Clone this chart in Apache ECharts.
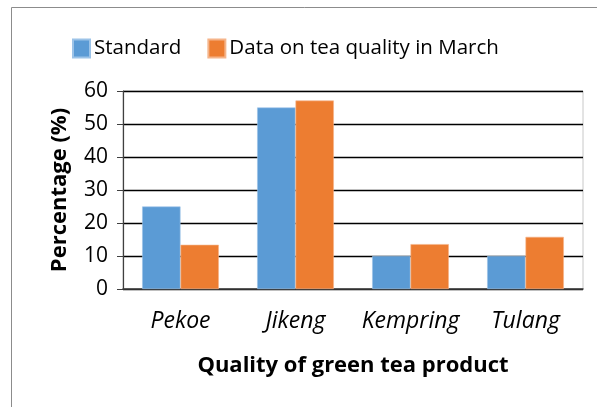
<!DOCTYPE html>
<html><head><meta charset="utf-8">
<script src="https://cdn.jsdelivr.net/npm/echarts@6/dist/echarts.min.js"></script>
<style>html,body{margin:0;padding:0;background:#fff}#c{width:597px;height:407px}</style>
</head><body><div id="c"></div>
<script>
const categories = ['Pekoe', 'Jikeng', 'Kempring', 'Tulang'];
const standard = [25, 55, 10, 10];
const march = [13.4, 57.1, 13.6, 15.8];
const seriesNames = ['Standard', 'Data on tea quality in March'];
const yTicks = { min: 0, max: 60, interval: 10 };

const FONT = 'Open Sans';
const chart = echarts.init(document.getElementById('c'), null, { renderer: 'canvas' });
chart.setOption({
  animation: false,
  backgroundColor: '#fff',
  textStyle: { fontFamily: FONT },
  graphic: [{
    type: 'rect', left: 9, top: 5, z: 100,
    shape: { width: 700, height: 500 },
    style: { fill: 'none', stroke: '#8c8c8c', lineWidth: 1 }
  }],
  legend: {
    left: 67, top: 33,
    itemWidth: 17, itemHeight: 18, itemGap: 26,
    icon: 'rect',
    textStyle: { fontSize: 20.5, color: '#000', fontFamily: FONT, padding: [0, 0, 0, -1] },
    data: seriesNames
  },
  grid: { left: 123, right: 14, top: 91, bottom: 118, show: true, borderColor: '#c8c8c8', borderWidth: 1 },
  xAxis: {
    type: 'category', data: categories,
    name: 'Quality of green tea product', nameLocation: 'middle', nameGap: 66,
    nameTextStyle: { fontSize: 22, fontWeight: 'bold', color: '#000', fontFamily: FONT },
    axisTick: { show: false },
    axisLine: { lineStyle: { color: '#404040', width: 1.5 } },
    axisLabel: { interval: 0, fontSize: 23, fontStyle: 'italic', color: '#000', margin: 21, fontFamily: FONT }
  },
  yAxis: {
    type: 'value', min: yTicks.min, max: yTicks.max, interval: yTicks.interval,
    name: 'Percentage (%)', nameLocation: 'middle', nameGap: 52,
    nameTextStyle: { fontSize: 22, fontWeight: 'bold', color: '#000', fontFamily: FONT },
    axisLine: { show: true, lineStyle: { color: '#404040', width: 1.2 } },
    axisTick: { show: true, length: 6, lineStyle: { color: '#404040' } },
    axisLabel: { fontSize: 21, color: '#000', margin: 15, fontFamily: FONT },
    splitLine: { lineStyle: { color: '#000', width: 1.3 } }
  },
  series: [
    { name: seriesNames[0], type: 'bar', data: standard, barGap: '0%', barCategoryGap: '33.3%',
      itemStyle: { color: '#5B9BD5', borderColor: '#9cc3e8', borderWidth: 0.6 } },
    { name: seriesNames[1], type: 'bar', data: march, barGap: '0%', barCategoryGap: '33.3%',
      itemStyle: { color: '#ED7D31', borderColor: '#f5b48a', borderWidth: 0.6 } }
  ]
});
</script></body></html>
